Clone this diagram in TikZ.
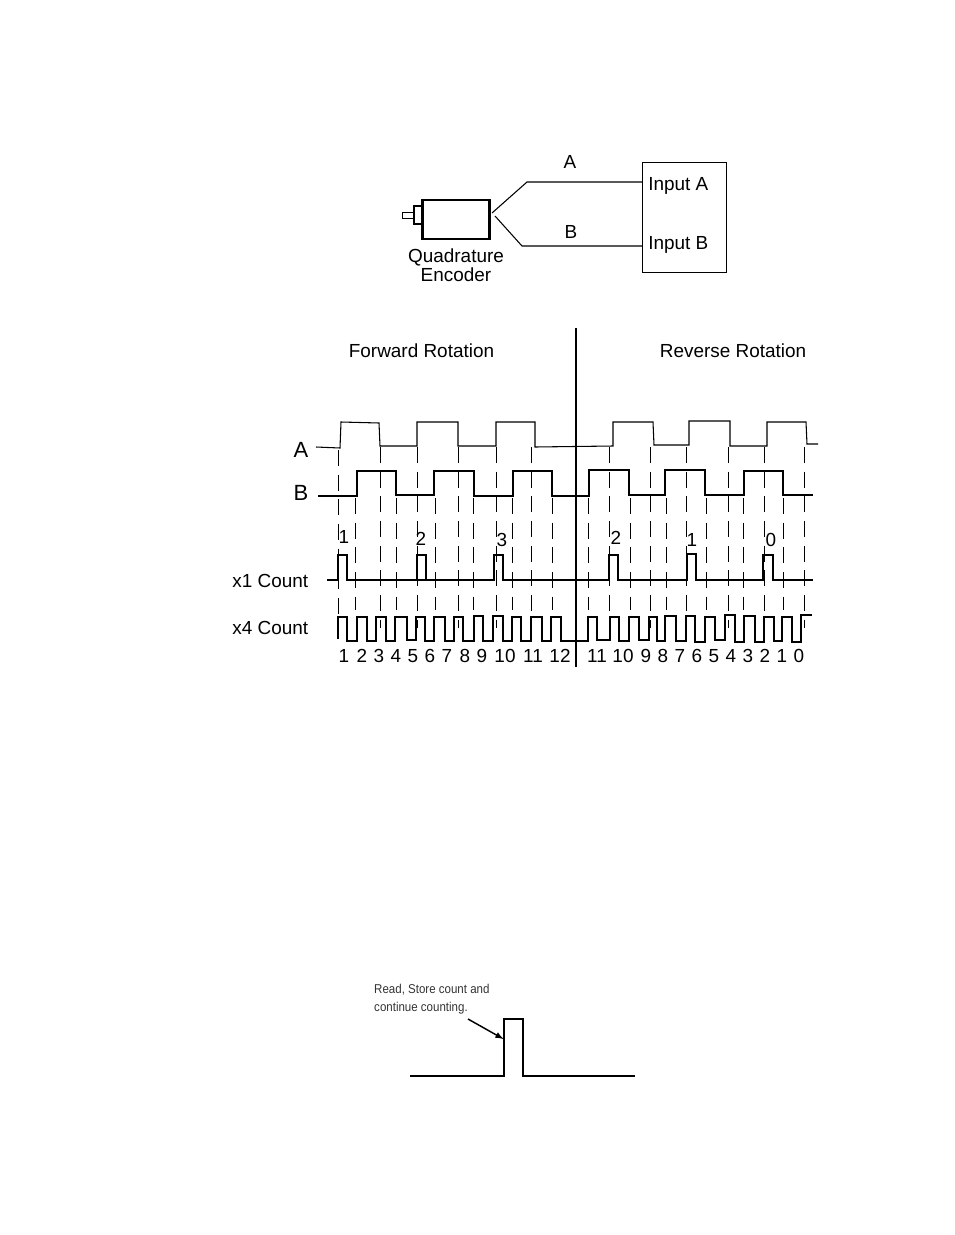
\documentclass[tikz,border=0pt]{standalone}
\usepackage{fontspec}
\setmainfont{Liberation Sans}
\begin{document}
\begin{tikzpicture}[x=0.75pt,y=-0.75pt,
				every node/.style={inner sep=0pt,anchor=base},
				label/.style={font=\fontsize{14.2pt}{16pt}\selectfont},
				signame/.style={font=\fontsize{16.5pt}{18pt}\selectfont},
				note/.style={font=\fontsize{9.6pt}{11pt}\selectfont,xscale=.9,anchor=base west,text=black!80},
				wave/.style={line width=.8pt},
				edge/.style={line width=.7pt,dash pattern=on 12pt off 6.5pt}]
\useasboundingbox (0,0) rectangle (954,1235);
% encoder and input box
\node[draw,line width=1.9pt,minimum width=50pt,minimum height=29pt] (encoder) at (456,219.5) {};
\node[draw,fill=white,line width=.8pt,minimum width=6pt,minimum height=13.5pt,anchor=center] (flange) at (418,215) {};
\node[draw,line width=.6pt,minimum width=9pt,minimum height=4.5pt,anchor=center] (shaft) at (408,215) {};
\node[draw,line width=.6pt,minimum width=63.5pt,minimum height=82.5pt,anchor=center] (inputbox) at (684.5,217) {};
\node[encoder/.style={},anchor=center,draw=none,minimum width=0pt,minimum height=0pt] at (encoder.center) {};
\coordinate (tapA) at (492,213);
\coordinate (tapB) at (495,216);
\coordinate (bendA) at (527,182);
\coordinate (bendB) at (522,246);
\draw[wave] (tapA) -- (bendA) -- (bendA-|inputbox.west);
\draw[wave] (tapB) -- (bendB) -- (bendB-|inputbox.west);
\node[label] (wirea) at (570,168) {A};
\node[label] (wireb) at (571,238) {B};
\node[label,anchor=base west] (inputa) at (648,190) {Input A};
\node[label,anchor=base west] (inputb) at (648,249) {Input B};
\node[label] (quad) at (456,262) {Quadrature};
\node[label] (enc) at (456,281.5) {Encoder};
% rotation divider
\coordinate (divtop) at (576,328);
\coordinate (divbot) at (576,667);
\draw[line width=1.5pt] (divtop) -- (divbot);
\node[label] (forward) at (421.5,357.5) {Forward Rotation};
\node[label] (reverse) at (733,357.5) {Reverse Rotation};
% dashed edges of A
\foreach \x/\top in {338/450,380/447,417/447,458/447,496/447,531/447,609/447,650/447,686/447,728/447,764/447,804/447}
	\draw[edge] (\x,\top) -- (\x,628);
% dashed edges of B
\foreach \x in {355,396,435,473,512,552,588,630,666,706,743,783}
	\draw[edge] (\x,498) -- (\x,610);
% signals
\draw[wave] (316,447) -- (340,448) -- (341,422) -- (379,423) -- (380,446) -- (417,446) -- (417,422) -- (458,422) -- (458,446) -- (496,446) -- (496,422) -- (535,422) -- (535,447) -- (613,446) -- (613,422) -- (653,422) -- (654,445) -- (689,445) -- (689,421) -- (730,421) -- (730,446) -- (767,446) -- (767,422) -- (806,422) -- (807,444) -- (818,444);
\draw[wave] (318,496) -- (357,496) -- (357,471) -- (396,471) -- (396,495) -- (434,495) -- (434,471) -- (474,471) -- (474,496) -- (513,496) -- (513,471) -- (552,471) -- (552,496) -- (589,496) -- (589,470) -- (629,470) -- (629,495) -- (665,495) -- (665,470) -- (705,470) -- (705,495) -- (744,495) -- (744,471) -- (783,471) -- (783,495) -- (813,495);
\draw[wave] (327,580) -- (338,580) -- (338,555) -- (347,555) -- (347,580) -- (417,580) -- (417,555) -- (426,555) -- (426,580) -- (494,580) -- (494,555) -- (503,555) -- (503,580) -- (609,580) -- (609,555) -- (618,555) -- (618,580) -- (687,580) -- (687,554) -- (696,554) -- (696,580) -- (763,580) -- (763,555) -- (773,555) -- (773,580) -- (813,580);
\draw[line width=1.3pt] (347,580) -- (481,580);
\draw[line width=1.3pt] (618,579.5) -- (687,579.5);
\draw[wave] (338,639) -- (338,617) -- (347,617) -- (347,641) -- (357,641) -- (357,617) -- (367,617) -- (367,641) -- (376,641) -- (376,617) -- (386,617) -- (386,641) -- (395,641) -- (395,617) -- (407,617) -- (407,640) -- (416,640) -- (416,617) -- (425,617) -- (425,641) -- (434,641) -- (434,617) -- (445,617) -- (445,641) -- (454,641) -- (454,617) -- (463,617) -- (463,641) -- (474,641) -- (474,616) -- (483,616) -- (483,641) -- (493,641) -- (493,616) -- (503,616) -- (503,641) -- (512,641) -- (512,617) -- (521,617) -- (521,641) -- (531,641) -- (531,617) -- (542,617) -- (542,641) -- (551,641) -- (551,617) -- (561,617) -- (561,641) -- (588,641) -- (588,617) -- (597,617) -- (597,640) -- (610,640) -- (610,617) -- (619,617) -- (619,641) -- (629,641) -- (629,617) -- (639,617) -- (639,640) -- (649,640) -- (649,617) -- (657,617) -- (657,641) -- (665,641) -- (665,616) -- (676,616) -- (676,641) -- (686,641) -- (686,616) -- (695,616) -- (695,642) -- (705,642) -- (705,617) -- (715,617) -- (715,640) -- (725,640) -- (725,615) -- (735,615) -- (735,642) -- (744,642) -- (744,616) -- (755,616) -- (755,642) -- (764,642) -- (764,617) -- (774,617) -- (774,641) -- (782,641) -- (782,617) -- (792,617) -- (792,642) -- (801,642) -- (801,615) -- (812,615);
% signal names
\node[signame] (nameA) at (301,457) {A};
\node[signame] (nameB) at (301,500.5) {B};
\node[label,anchor=base east] (namex1) at (308.5,587) {x1 Count};
\node[label,anchor=base east] (namex4) at (308.5,634) {x4 Count};
% x1 numbers
\foreach \x/\y/\n in {344/543/1,421/545/2,502/546/3,616/544/2,692/546/1,771/546/0}
	\node[label] at (\x,\y) {\n};
% x4 numbers
\foreach \x/\n in {344/1,362/2,379/3,396/4,413/5,430/6,447/7,465/8,482/9,505/10,533/11,560/12,597/11,623/10,646/9,663/8,680/7,697/6,714/5,731/4,748/3,765/2,782/1,799/0}
	\node[label] at (\x,662) {\n};
% read pulse
\node[note] (readline) at (374,993) {Read, Store count and};
\node[note] (contline) at (374,1011) {continue counting.};
\coordinate (arrowstart) at (468,1019);
\coordinate (arrowend) at (503.5,1039);
\draw[wave] (410,1076) -- (504,1076) -- (504,1019) -- (523,1019) -- (523,1076) -- (635,1076);
\draw[line width=1.1pt,-latex] (arrowstart) -- (arrowend);
\end{tikzpicture}
\end{document}
